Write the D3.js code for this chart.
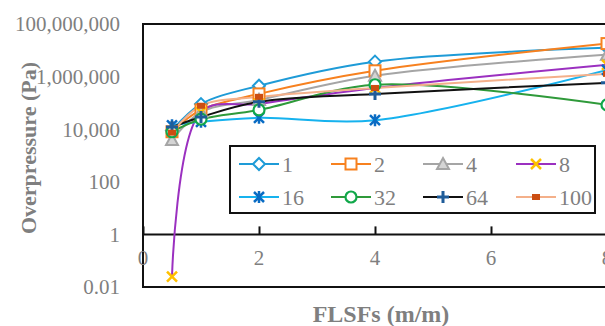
<!DOCTYPE html>
<html>
<head>
<meta charset="utf-8">
<script src="https://cdn.jsdelivr.net/npm/d3@7"></script>
<style>
  html, body { margin: 0; padding: 0; background: #fff; overflow: hidden; }
  svg { display: block; }
</style>
</head>
<body>
<script>
// FLSF ratio on the x axis (m/m)
const flsf = [0.5, 1, 2, 4, 8];

// Overpressure (Pa) for each case
const case1   = [9000, 90000, 450000, 3.7e6, 1.26e7];
const case2   = [8000, 54000, 220000, 1.66e6, 1.8e7];
const case4   = [3900, 45000, 130000, 1.07e6, 6.8e6];
const case8   = [0.025, 45000, 92000, 370000, 2.8e6];
const case16  = [14000, 19000, 27000, 22000, 1.8e6];
const case32  = [8000, 24000, 54000, 490000, 84000];
const case64  = [12000, 29000, 110000, 220000, 580000];
const case100 = [7400, 78000, 170000, 370000, 1.27e6];

const seriesNames = ["1", "2", "4", "8", "16", "32", "64", "100"];
const seriesValues = [case1, case2, case4, case8, case16, case32, case64, case100];

const yTickValues = [0.01, 1, 100, 10000, 1000000, 100000000];
const xTickValues = [0, 2, 4, 6, 8];

// styling per series: line colour, marker type, marker stroke/fill
const styles = [
  { line: "#1e9bd7", marker: "diamond",  stroke: "#1e9bd7", fill: "#fff" },
  { line: "#f7811f", marker: "square",   stroke: "#f7811f", fill: "#fff" },
  { line: "#a5a5a5", marker: "triangle", stroke: "#a5a5a5", fill: "#d4d4d4" },
  { line: "#9b30c0", marker: "x",        stroke: "#ffc000", fill: "none" },
  { line: "#16b2ee", marker: "asterisk", stroke: "#0a6cc4", fill: "none" },
  { line: "#2f9a3a", marker: "circle",   stroke: "#11a84a", fill: "#fff" },
  { line: "#111111", marker: "plus",     stroke: "#1f5c99", fill: "none" },
  { line: "#f4b08a", marker: "smallsq",  stroke: "#cc4e12", fill: "#cc4e12" }
];

const W = 605, H = 326;
const svg = d3.select("body").append("svg").attr("width", W).attr("height", H);

const plotLeft = 143, plotTop = 24, plotBottom = 287, plotRight = 614;
const x = d3.scaleLinear().domain([0, 8]).range([plotLeft, plotLeft + 8 * 58]);
const y = d3.scaleLog().domain([0.01, 1e8]).range([plotBottom, plotTop]);

const grey = "#7f7f7f";
const serif = "'Liberation Serif', 'DejaVu Serif', serif";

// plot frame
svg.append("rect")
  .attr("x", plotLeft).attr("y", plotTop)
  .attr("width", plotRight - plotLeft).attr("height", plotBottom - plotTop)
  .attr("fill", "none").attr("stroke", "#111").attr("stroke-width", 2);

// y tick labels
const fmt = v => v < 1 ? String(v) : d3.format(",")(v);
svg.append("g").selectAll("text").data(yTickValues).join("text")
  .attr("x", 120).attr("y", d => y(d)).attr("dy", "0.35em")
  .attr("text-anchor", "end")
  .attr("font-family", serif).attr("font-size", 21).attr("fill", grey)
  .text(fmt);

// x axis crossing at 1 Pa, ticks pointing upward
const xAxis = d3.axisTop(x).tickValues(xTickValues).tickSize(8).tickFormat("");
const gx = svg.append("g").attr("transform", `translate(0,${y(1)})`).call(xAxis);
gx.select(".domain").remove();
gx.selectAll(".tick line").attr("stroke", "#111").attr("stroke-width", 2);
svg.append("line")
  .attr("x1", plotLeft).attr("x2", plotRight).attr("y1", y(1)).attr("y2", y(1))
  .attr("stroke", "#111").attr("stroke-width", 2);

svg.append("g").selectAll("text").data(xTickValues).join("text")
  .attr("x", d => x(d)).attr("y", y(1) + 31)
  .attr("text-anchor", "middle")
  .attr("font-family", serif).attr("font-size", 21).attr("fill", grey)
  .text(d => d);

// axis titles
svg.append("text")
  .attr("transform", `translate(36,148) rotate(-90)`)
  .attr("text-anchor", "middle")
  .attr("font-family", serif).attr("font-weight", "bold").attr("font-size", 22)
  .attr("fill", grey).text("Overpressure (Pa)");

svg.append("text")
  .attr("x", 381).attr("y", 322)
  .attr("text-anchor", "middle")
  .attr("font-family", serif).attr("font-weight", "bold").attr("font-size", 24)
  .attr("fill", grey).text("FLSFs (m/m)");

// marker drawing
function drawMarker(g, type, st) {
  const sw = 2;
  switch (type) {
    case "diamond":
      g.append("path").attr("d", "M0,-6L6,0L0,6L-6,0Z")
        .attr("fill", st.fill).attr("stroke", st.stroke).attr("stroke-width", sw);
      break;
    case "square":
      g.append("rect").attr("x", -5.5).attr("y", -5.5).attr("width", 11).attr("height", 11)
        .attr("fill", st.fill).attr("stroke", st.stroke).attr("stroke-width", sw);
      break;
    case "triangle":
      g.append("path").attr("d", "M0,-6L6,5L-6,5Z")
        .attr("fill", st.fill).attr("stroke", st.stroke).attr("stroke-width", sw);
      break;
    case "x":
      g.append("path").attr("d", "M-5,-5L5,5M-5,5L5,-5")
        .attr("stroke", st.stroke).attr("stroke-width", 2.5).attr("fill", "none");
      break;
    case "asterisk":
      g.append("path").attr("d", "M-5,-5L5,5M-5,5L5,-5M0,-6L0,6")
        .attr("stroke", st.stroke).attr("stroke-width", 2.5).attr("fill", "none");
      break;
    case "circle":
      g.append("circle").attr("r", 5.5)
        .attr("fill", st.fill).attr("stroke", st.stroke).attr("stroke-width", 2.2);
      break;
    case "plus":
      g.append("path").attr("d", "M-6,0L6,0M0,-6L0,6")
        .attr("stroke", st.stroke).attr("stroke-width", 3).attr("fill", "none");
      break;
    case "smallsq":
      g.append("rect").attr("x", -4).attr("y", -3).attr("width", 8).attr("height", 6)
        .attr("fill", st.fill).attr("stroke", "none");
      break;
  }
}

// smoothed series lines
const line = d3.line()
  .x(d => x(d[0])).y(d => y(d[1]))
  .curve(d3.curveCatmullRom.alpha(0.5));

const plot = svg.append("g");
seriesValues.forEach((vals, i) => {
  const pts = flsf.map((f, j) => [f, vals[j]]);
  plot.append("path").datum(pts)
    .attr("d", line)
    .attr("fill", "none").attr("stroke", styles[i].line).attr("stroke-width", 2);
});
seriesValues.forEach((vals, i) => {
  flsf.forEach((f, j) => {
    const g = plot.append("g").attr("transform", `translate(${x(f)},${y(vals[j])})`);
    drawMarker(g, styles[i].marker, styles[i]);
  });
});

// legend
const lg = svg.append("g");
lg.append("rect").attr("x", 230).attr("y", 146).attr("width", 365).attr("height", 67)
  .attr("fill", "#fff").attr("stroke", "#111").attr("stroke-width", 2);
const colX = [239, 331, 423, 516];
const rowY = [164, 197];
seriesNames.forEach((name, i) => {
  const cx = colX[i % 4], cy = rowY[Math.floor(i / 4)];
  const item = lg.append("g").attr("transform", `translate(${cx},${cy})`);
  item.append("line").attr("x1", 0).attr("x2", 40).attr("y1", 0).attr("y2", 0)
    .attr("stroke", styles[i].line).attr("stroke-width", 2);
  drawMarker(item.append("g").attr("transform", "translate(20,0)"), styles[i].marker, styles[i]);
  item.append("text").attr("x", 43).attr("y", 0).attr("dy", "0.35em")
    .attr("font-family", serif).attr("font-size", 22).attr("fill", grey)
    .text(name);
});
</script>
</body>
</html>
